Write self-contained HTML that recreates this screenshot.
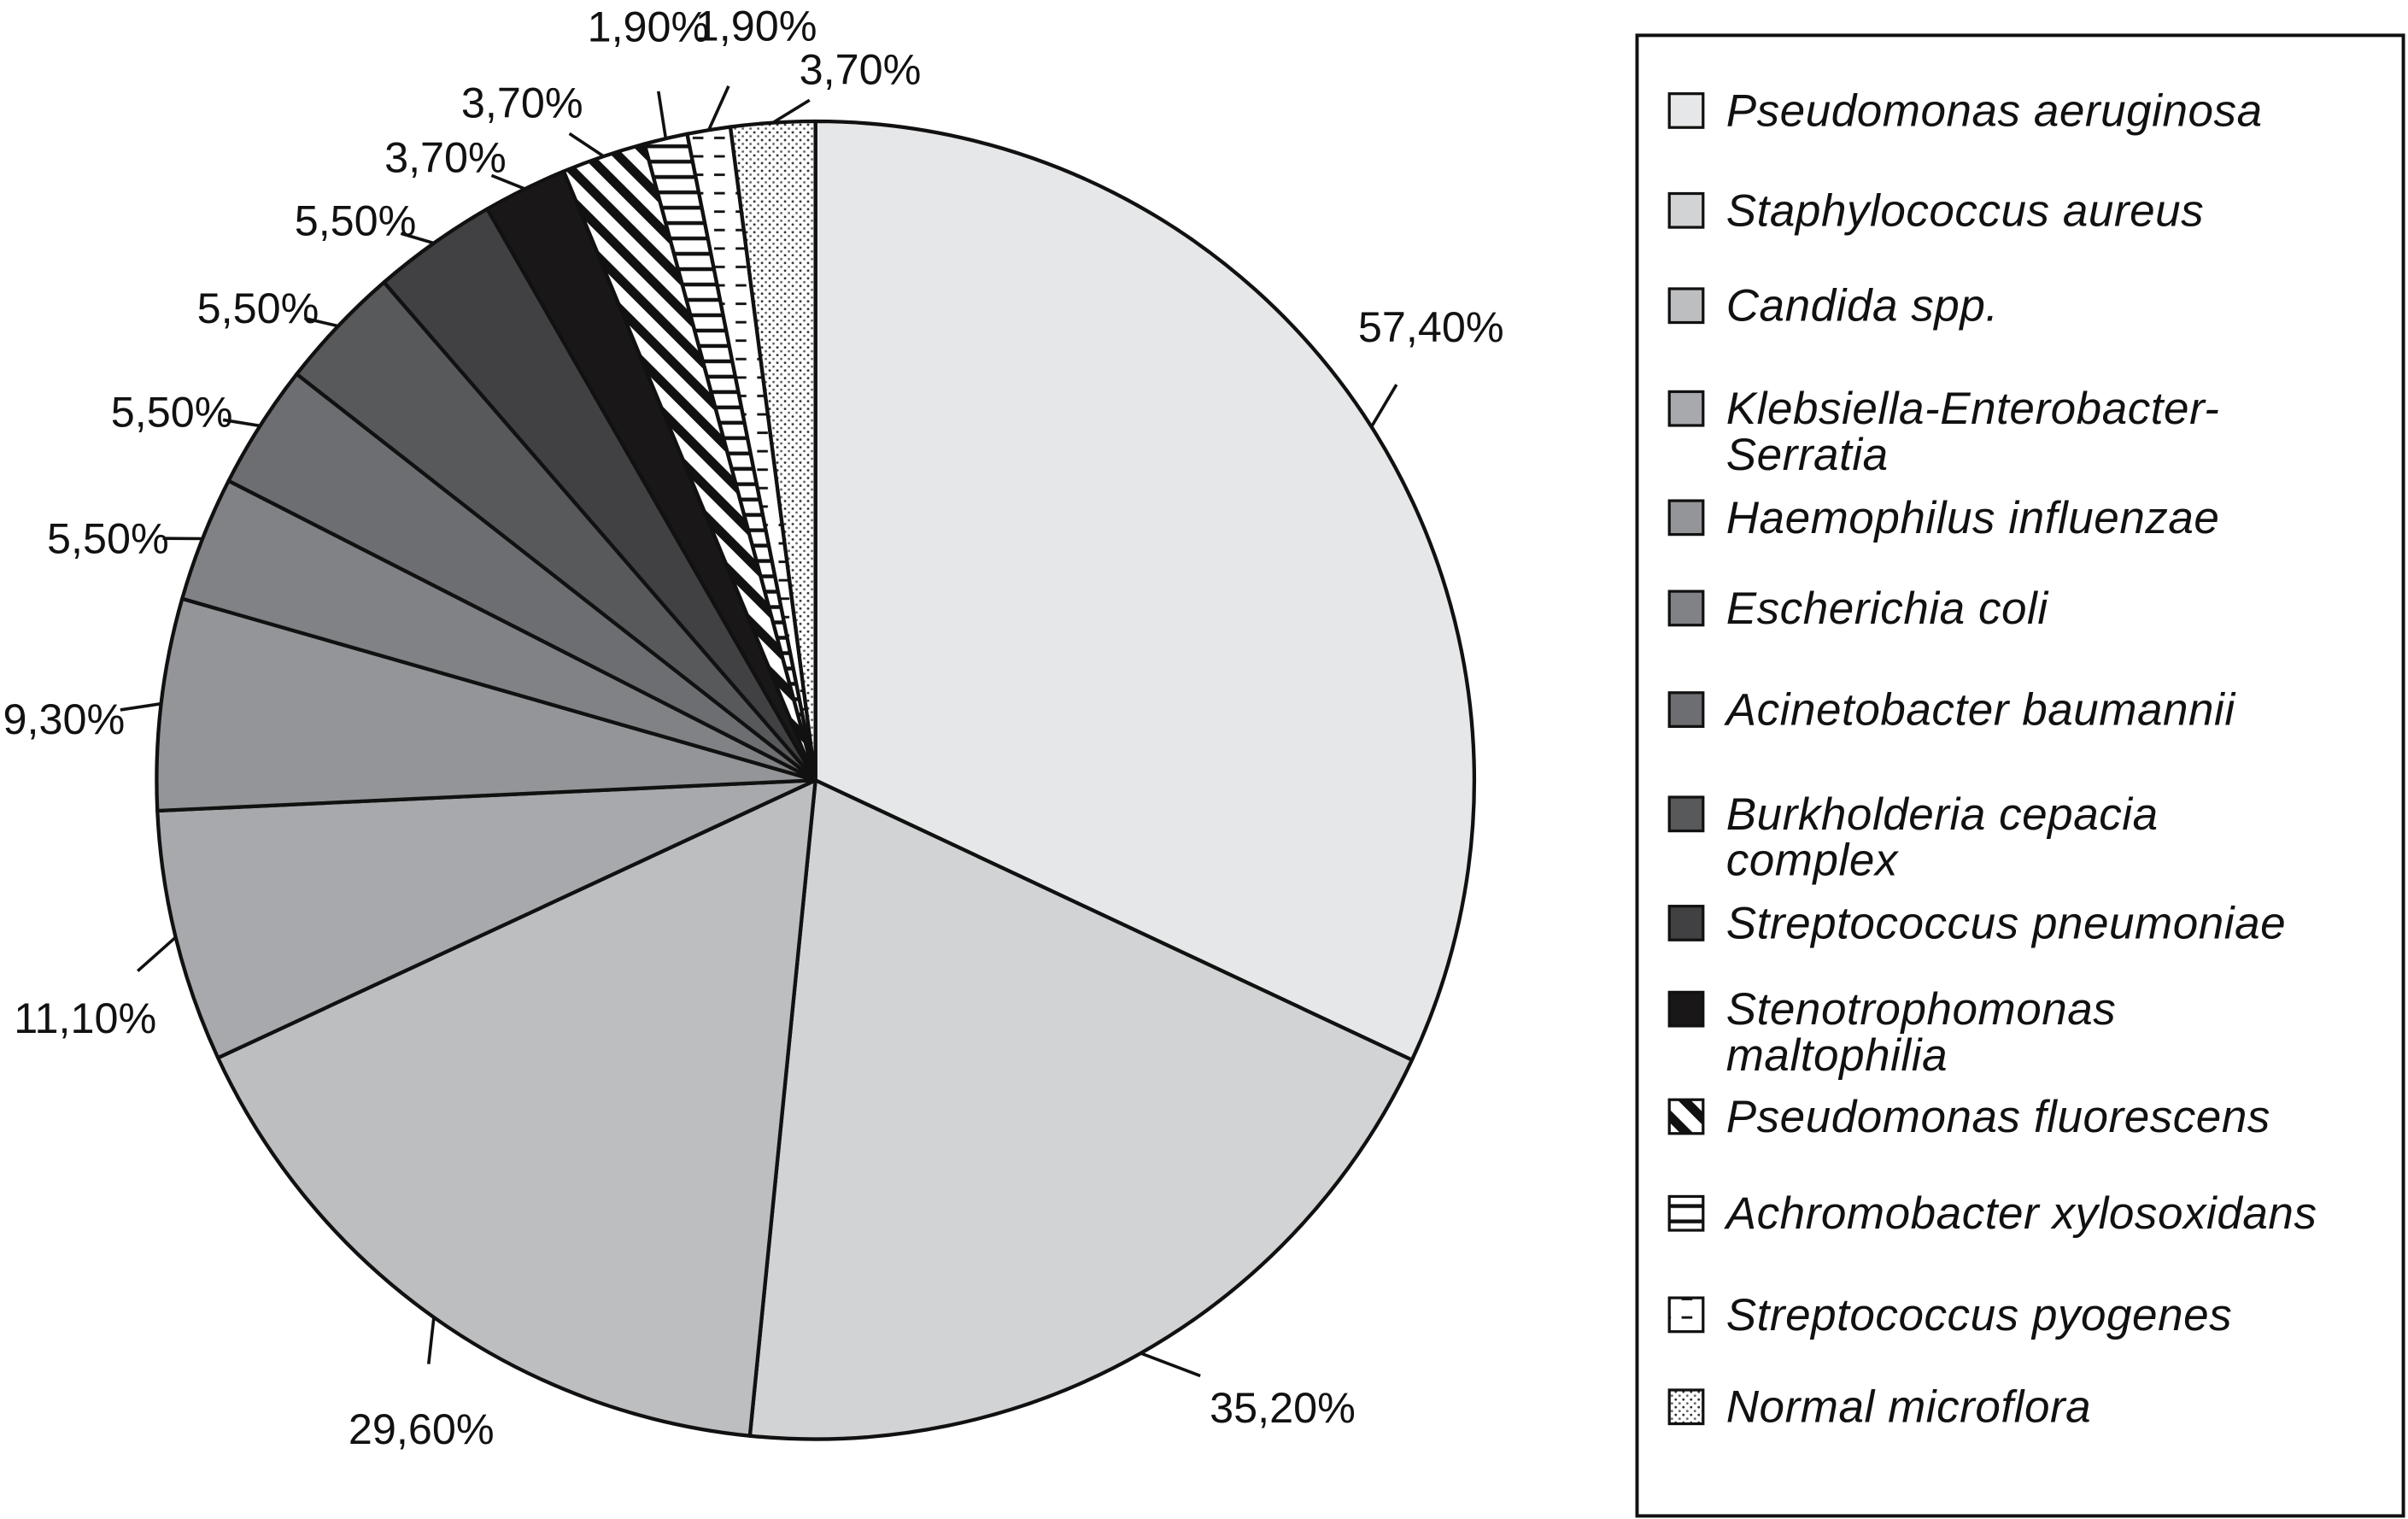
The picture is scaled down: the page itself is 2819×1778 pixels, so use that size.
<!DOCTYPE html>
<html><head><meta charset="utf-8">
<style>
html,body{margin:0;padding:0;background:#fff;}
svg{display:block;}
text{font-family:"Liberation Sans",Arial,sans-serif;}
</style></head>
<body>
<svg id="chart" width="2819" height="1778" viewBox="0 0 1568 989" xmlns="http://www.w3.org/2000/svg">
<defs>
  <pattern id="pat-diag" patternUnits="userSpaceOnUse" width="14" height="14" patternTransform="rotate(-45)">
    <rect width="14" height="14" fill="#fff"/><rect x="0" y="0" width="6" height="14" fill="#111"/>
  </pattern>
  <pattern id="pat-horiz" patternUnits="userSpaceOnUse" width="20" height="10">
    <rect width="20" height="10" fill="#fff"/><rect x="0" y="4" width="20" height="2.5" fill="#111"/>
  </pattern>
  <pattern id="pat-dash" patternUnits="userSpaceOnUse" width="14" height="12">
    <rect width="14" height="12" fill="#fff"/><rect x="3" y="5" width="7" height="1.6" fill="#111"/>
  </pattern>
  <pattern id="pat-dots" patternUnits="userSpaceOnUse" width="5" height="5">
    <rect width="5" height="5" fill="#fff"/><circle cx="1.2" cy="1.2" r="0.8" fill="#333"/><circle cx="3.7" cy="3.7" r="0.8" fill="#666"/>
  </pattern>
</defs>
<g id="slices"></g>
<g id="labels"></g>
<g id="legend"></g>
</svg>
<script>
const categories = ["Pseudomonas aeruginosa","Staphylococcus aureus","Candida spp.","Klebsiella-Enterobacter-Serratia","Haemophilus influenzae","Escherichia coli","Acinetobacter baumannii","Burkholderia cepacia complex","Streptococcus pneumoniae","Stenotrophomonas maltophilia","Pseudomonas fluorescens","Achromobacter xylosoxidans","Streptococcus pyogenes","Normal microflora"];
const values = [57.4,35.2,29.6,11.1,9.3,5.5,5.5,5.5,5.5,3.7,3.7,1.9,1.9,3.7];
const valueLabels = ["57,40%","35,20%","29,60%","11,10%","9,30%","5,50%","5,50%","5,50%","5,50%","3,70%","3,70%","1,90%","1,90%","3,70%"];
const legendLines = [["Pseudomonas aeruginosa"],["Staphylococcus aureus"],["Candida spp."],["Klebsiella-Enterobacter-","Serratia"],["Haemophilus influenzae"],["Escherichia coli"],["Acinetobacter baumannii"],["Burkholderia cepacia","complex"],["Streptococcus pneumoniae"],["Stenotrophomonas","maltophilia"],["Pseudomonas fluorescens"],["Achromobacter xylosoxidans"],["Streptococcus pyogenes"],["Normal microflora"]];
// layout (style) arrays
const fills = ["#e6e7e8","#d1d3d4","#bcbec0","#a7a9ac","#939598","#808285","#6d6e71","#58595b","#414042","#1a1718","url(#pat-diag)","url(#pat-horiz)","url(#pat-dash)","url(#pat-dots)"];
const labelAng = [53.6,143.3,211.3,252,274.7,288.9,299.8,310.3,320.6,329.3,336.6,347.5,355.5,3.6];
const labelDist = [498,509,494,500,491,487,483,476,472,472,481,503,493,464];
const legendY = [72,137,199,266,337,396,462,530,601,657,727,790,856,916];

const NS="http://www.w3.org/2000/svg";
const cx=531, cy=508, R=429;
const total = values.reduce((a,b)=>a+b,0);
function pt(angDeg, r){const a=angDeg*Math.PI/180;return [cx+r*Math.sin(a), cy-r*Math.cos(a)];}
function mk(tag, attrs, parent){const e=document.createElementNS(NS,tag);for(const k in attrs)e.setAttribute(k,attrs[k]);parent.appendChild(e);return e;}

const gS=document.getElementById('slices'), gL=document.getElementById('labels'), gG=document.getElementById('legend');
let acc=0;
values.forEach((v,i)=>{
  const a0=acc/total*360, a1=(acc+v)/total*360; acc+=v;
  const p0=pt(a0,R), p1=pt(a1,R);
  const large=(a1-a0)>180?1:0;
  const p=mk('path',{d:`M${cx},${cy} L${p0[0]},${p0[1]} A${R},${R} 0 ${large} 1 ${p1[0]},${p1[1]} Z`,fill:fills[i],stroke:'#111','stroke-width':2.4,'stroke-linejoin':'round'},gS);
  
  
  const mid=(a0+a1)/2;
  const e0=pt(mid,R);
  const tp=pt(labelAng[i],labelDist[i]);
  const k=0.42;
  const ex=e0[0]+(tp[0]-e0[0])*k, ey=e0[1]+(tp[1]-e0[1])*k;
  const ln=mk('line',{x1:e0[0],y1:e0[1],x2:ex,y2:ey,stroke:'#111','stroke-width':2},gL);
  
  
  const t=mk('text',{x:tp[0],y:tp[1]+10,'font-size':28,'text-anchor':'middle',fill:'#111'},gL);
  t.textContent=valueLabels[i];
  
  
});
// legend
const box=mk('rect',{x:1066,y:23,width:499,height:964,fill:'#fff',stroke:'#111','stroke-width':2.2},gG);


categories.forEach((c,i)=>{
  const y=legendY[i];
  const sw=mk('rect',{x:1087,y:y-11,width:22,height:22,fill:fills[i],stroke:'#111','stroke-width':1.8},gG);
  
  
  const t=mk('text',{x:1124,y:y+10,'font-size':29.5,'font-style':'italic',fill:'#111','letter-spacing':0.3},gG);
  
  
  legendLines[i].forEach((s,j)=>{const ts=mk('tspan',{x:1124,dy:j?30:0},t);ts.textContent=s;});
});
</script>
</body></html>
